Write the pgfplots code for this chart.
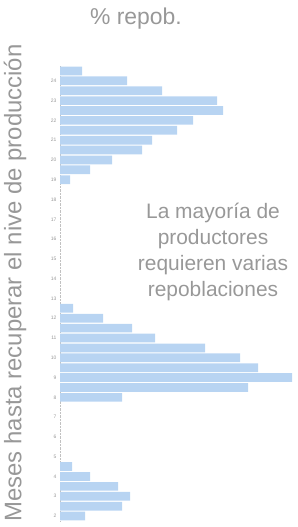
\documentclass[border=0pt]{standalone}
\usepackage{fontspec}
\setmainfont{Liberation Sans}
\usepackage{pgfplots}
\pgfplotsset{compat=1.18}
\definecolor{barblue}{RGB}{184,212,242}
\definecolor{txtgray}{RGB}{152,152,152}
\begin{document}
\begin{tikzpicture}[x=1bp,y=1bp]
\path[use as bounding box] (0,0) rectangle (297,527);
\begin{axis}[
  at={(60bp,6bp)}, anchor=south west,
  scale only axis, width=237bp, height=455bp,
  xmin=0, xmax=23.7, ymin=-0.5, ymax=45.5,
  xbar, bar width=0.88,
  axis x line=none,
  axis y line=left,
  axis line style={-, densely dotted, draw=txtgray!60},
  ytick={0,2,...,44},
  yticklabels={2,3,4,5,6,7,8,9,10,11,12,13,14,15,16,17,18,19,20,21,22,23,24},
  major tick length=0pt,
  yticklabel style={font=\fontsize{5}{5}\selectfont, text=txtgray},
  clip=false,
]
\addplot[fill=barblue, draw=none] table[x=v, y=k] {
k v
45 2.2
44 6.7
43 10.2
42 15.7
41 16.3
40 13.3
39 11.7
38 9.2
37 8.2
36 5.2
35 3.0
34 1.0
21 1.3
20 4.3
19 7.2
18 9.5
17 14.5
16 18.0
15 19.8
14 23.2
13 18.8
12 6.2
5 1.2
4 3.0
3 5.8
2 7.0
1 6.2
0 2.5
};
\end{axis}
\node[text=txtgray, font=\fontsize{23}{27}\selectfont] at (136,508) {\% repob.};
\node[text=txtgray, rotate=90, font=\fontsize{24}{28}\selectfont] at (15,244) {Meses hasta recuperar el nive de producción};
\node[text=txtgray, align=center, font=\fontsize{21}{26}\selectfont] at (213,275) {La mayoría de\\productores\\requieren varias\\repoblaciones};
\end{tikzpicture}
\end{document}
